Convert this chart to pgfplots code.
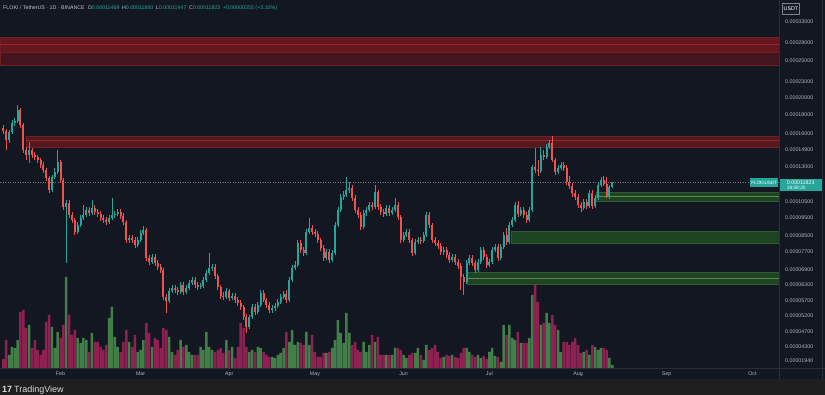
\documentclass[border=0pt]{standalone}
\usepackage{fontspec}
\setmainfont{Liberation Sans}
\usepackage{pgfplots}
\usepackage{pgfplotstable}
\pgfplotsset{compat=1.18}

\definecolor{bgc}{RGB}{19,23,34}
\definecolor{upc}{RGB}{38,166,154}
\definecolor{dnc}{RGB}{239,83,80}
\definecolor{volup}{RGB}{66,126,72}
\definecolor{voldn}{RGB}{142,32,82}
\definecolor{txt}{RGB}{178,181,190}
\definecolor{gridc}{RGB}{42,46,57}
\definecolor{rz1}{RGB}{100,24,30}
\definecolor{rz2}{RGB}{68,21,30}
\definecolor{rzl}{RGB}{150,38,42}
\definecolor{rzb}{RGB}{110,32,38}
\definecolor{gz}{RGB}{30,68,36}
\definecolor{gzl}{RGB}{90,140,80}
\definecolor{pline}{RGB}{120,123,134}
\definecolor{strip}{RGB}{30,30,30}

% daily candles: d = day of 2023 (Jan 1 = 0), o h l c prices in USDT, v = volume (relative)
\pgfplotstableread{
d o h l c v
13 0.00015358 0.00016336 0.00015077 0.00016135 13
14 0.00016135 0.00017375 0.00015937 0.00017056 21
15 0.00017056 0.00017591 0.00016744 0.00017268 20
16 0.00017268 0.00019061 0.00017056 0.00018481 28
20 0.00013999 0.00015170 0.00013325 0.00014438 43
28 0.00011279 0.00012374 0.00011141 0.00012222 41
29 0.00012222 0.00012920 0.00012072 0.00012605 20
30 0.00012605 0.00014438 0.00012450 0.00013408 36
33 0.00010155 0.00010604 0.00007187 0.00010409 91
37 0.00008703 0.00009257 0.00008597 0.00009087 30
38 0.00009087 0.00009666 0.00008976 0.00009488 25
39 0.00009488 0.00010282 0.00009372 0.00009666 30
40 0.00009666 0.00010155 0.00009547 0.00009969 28
42 0.00009786 0.00010604 0.00009666 0.00010093 35
48 0.00009257 0.00009666 0.00009143 0.00009488 50
49 0.00009488 0.00010736 0.00009372 0.00009666 61
50 0.00009666 0.00009907 0.00009488 0.00009726 31
51 0.00009726 0.00010031 0.00009606 0.00009846 21
55 0.00008284 0.00008544 0.00008132 0.00008386 26
58 0.00008032 0.00008438 0.00007933 0.00008284 16
59 0.00008284 0.00008811 0.00008182 0.00008650 18
60 0.00008650 0.00009031 0.00008544 0.00008811 28
63 0.00007231 0.00007598 0.00007143 0.00007458 21
69 0.00005684 0.00006159 0.00005614 0.00006046 31
70 0.00006046 0.00006275 0.00005972 0.00006159 16
73 0.00006009 0.00006392 0.00005935 0.00006275 28
75 0.00006009 0.00006275 0.00005935 0.00006159 23
76 0.00006159 0.00006471 0.00006083 0.00006353 16
77 0.00006353 0.00006592 0.00006275 0.00006471 13
80 0.00006197 0.00006353 0.00006121 0.00006236 21
81 0.00006236 0.00006592 0.00006159 0.00006471 18
82 0.00006471 0.00006883 0.00006392 0.00006757 36
83 0.00006757 0.00007645 0.00006674 0.00006969 21
84 0.00006969 0.00007143 0.00006841 0.00007012 18
89 0.00005826 0.00006159 0.00005754 0.00006046 28
91 0.00005790 0.00005972 0.00005719 0.00005862 21
97 0.00004841 0.00005214 0.00004781 0.00005149 16
98 0.00005149 0.00005580 0.00005086 0.00005477 18
100 0.00005311 0.00005649 0.00005246 0.00005546 21
101 0.00005546 0.00006083 0.00005477 0.00005972 20
105 0.00005377 0.00005546 0.00005278 0.00005443 11
106 0.00005443 0.00005614 0.00005344 0.00005511 10
107 0.00005511 0.00005754 0.00005443 0.00005649 13
108 0.00005649 0.00005935 0.00005580 0.00005826 15
109 0.00005826 0.00006046 0.00005754 0.00005935 20
111 0.00005719 0.00006592 0.00005649 0.00006471 26
112 0.00006471 0.00007099 0.00006392 0.00006969 38
113 0.00006969 0.00007276 0.00006883 0.00007099 23
114 0.00007099 0.00008284 0.00007012 0.00008132 26
117 0.00007645 0.00008866 0.00007551 0.00008703 36
118 0.00008703 0.00009488 0.00008597 0.00008921 23
124 0.00007412 0.00007836 0.00007321 0.00007692 15
126 0.00007321 0.00007788 0.00007231 0.00007645 20
127 0.00007645 0.00009257 0.00007551 0.00009087 28
128 0.00009087 0.00010155 0.00008976 0.00009969 48
129 0.00009969 0.00011004 0.00009846 0.00010802 35
130 0.00010802 0.00011210 0.00010604 0.00010936 25
131 0.00010936 0.00012222 0.00010802 0.00011279 55
132 0.00011279 0.00011851 0.00011072 0.00011419 35
137 0.00008976 0.00009969 0.00008866 0.00009786 26
138 0.00009786 0.00010155 0.00009606 0.00009969 16
139 0.00009969 0.00010474 0.00009846 0.00010282 23
141 0.00010155 0.00011633 0.00010031 0.00011141 26
145 0.00009726 0.00010282 0.00009606 0.00010093 13
147 0.00009786 0.00010155 0.00009666 0.00009969 13
148 0.00009969 0.00010736 0.00009846 0.00010282 20
151 0.00008284 0.00008703 0.00008182 0.00008544 13
152 0.00008544 0.00008866 0.00008438 0.00008703 10
155 0.00007645 0.00008335 0.00007551 0.00008182 15
156 0.00008182 0.00008438 0.00008082 0.00008284 20
158 0.00008233 0.00008703 0.00008132 0.00008544 8
159 0.00008544 0.00009846 0.00008438 0.00009666 23
165 0.00007692 0.00007933 0.00007551 0.00007788 11
168 0.00007321 0.00007598 0.00007231 0.00007458 13
173 0.00006392 0.00007321 0.00006314 0.00007187 20
174 0.00007187 0.00007551 0.00007099 0.00007412 16
177 0.00006883 0.00007366 0.00006799 0.00007231 13
178 0.00007231 0.00007933 0.00007143 0.00007788 10
181 0.00007099 0.00007366 0.00007012 0.00007231 16
182 0.00007231 0.00007933 0.00007143 0.00007788 20
183 0.00007788 0.00008082 0.00007692 0.00007933 12
185 0.00007412 0.00008082 0.00007321 0.00007933 6
186 0.00007933 0.00008703 0.00007836 0.00008544 43
188 0.00008182 0.00009257 0.00008082 0.00009087 43
189 0.00009087 0.00009547 0.00008976 0.00009372 30
190 0.00009372 0.00010474 0.00009257 0.00010282 28
192 0.00009726 0.00010155 0.00009606 0.00009969 25
195 0.00009372 0.00010155 0.00009257 0.00009969 30
196 0.00009969 0.00013162 0.00009846 0.00013000 73
199 0.00012683 0.00014708 0.00012527 0.00013999 43
201 0.00013828 0.00014984 0.00013658 0.00014708 55
202 0.00014708 0.00015358 0.00014528 0.00015077 45
205 0.00012605 0.00013162 0.00012450 0.00012920 38
206 0.00012920 0.00013408 0.00012761 0.00013162 16
214 0.00010093 0.00010670 0.00009969 0.00010474 16
216 0.00010218 0.00011279 0.00010093 0.00011072 13
218 0.00010218 0.00010936 0.00010093 0.00010736 21
219 0.00010736 0.00011851 0.00010604 0.00011633 18
220 0.00011633 0.00012222 0.00011490 0.00011998 20
223 0.00010869 0.00011633 0.00010670 0.00011469 10
224 0.00011469 0.00011850 0.00011447 0.00011823 3
}\uptab

\pgfplotstableread{
d o h l c v
11 0.00016539 0.00016847 0.00015937 0.00016235 9
12 0.00016235 0.00016437 0.00014438 0.00015358 28
17 0.00018481 0.00018711 0.00016539 0.00016847 56
18 0.00016847 0.00017056 0.00014173 0.00014438 58
19 0.00014438 0.00014708 0.00013574 0.00013999 40
21 0.00014438 0.00014618 0.00013743 0.00013999 20
22 0.00013999 0.00014261 0.00013574 0.00013828 28
23 0.00013828 0.00013999 0.00013325 0.00013574 18
24 0.00013574 0.00013743 0.00012920 0.00013162 13
25 0.00013162 0.00013408 0.00012527 0.00012761 18
26 0.00012761 0.00012920 0.00011924 0.00012147 46
27 0.00012147 0.00012297 0.00011072 0.00011279 53
31 0.00013408 0.00013574 0.00011778 0.00011998 30
32 0.00011998 0.00012147 0.00009969 0.00010155 43
34 0.00010409 0.00010604 0.00009488 0.00009666 53
35 0.00009666 0.00009846 0.00009200 0.00009372 33
36 0.00009372 0.00009488 0.00008544 0.00008703 38
41 0.00009969 0.00010155 0.00009606 0.00009786 16
43 0.00010093 0.00010282 0.00009666 0.00009846 26
44 0.00009846 0.00010031 0.00009547 0.00009726 26
45 0.00009726 0.00009907 0.00009314 0.00009488 21
46 0.00009488 0.00009666 0.00009200 0.00009372 18
47 0.00009372 0.00009547 0.00009087 0.00009257 23
52 0.00009846 0.00010031 0.00009430 0.00009606 16
53 0.00009606 0.00009786 0.00009087 0.00009257 26
54 0.00009257 0.00009372 0.00008132 0.00008284 38
56 0.00008386 0.00008544 0.00008132 0.00008284 21
57 0.00008284 0.00008438 0.00007884 0.00008032 33
61 0.00008811 0.00008921 0.00007276 0.00007412 45
62 0.00007412 0.00007551 0.00007099 0.00007231 35
64 0.00007458 0.00007598 0.00007055 0.00007187 30
65 0.00007187 0.00007321 0.00006883 0.00007012 28
66 0.00007012 0.00007143 0.00006757 0.00006883 20
67 0.00006883 0.00006969 0.00005719 0.00005826 40
68 0.00005826 0.00005935 0.00005278 0.00005684 38
71 0.00006159 0.00006275 0.00005972 0.00006083 13
72 0.00006083 0.00006197 0.00005898 0.00006009 18
74 0.00006275 0.00006392 0.00005898 0.00006009 21
78 0.00006471 0.00006592 0.00006159 0.00006275 13
79 0.00006275 0.00006392 0.00006083 0.00006197 13
85 0.00007012 0.00007143 0.00006511 0.00006633 16
86 0.00006633 0.00006716 0.00006083 0.00006197 18
87 0.00006197 0.00006275 0.00005754 0.00005862 20
88 0.00005862 0.00006009 0.00005719 0.00005826 15
90 0.00006046 0.00006121 0.00005684 0.00005790 18
92 0.00005862 0.00005972 0.00005614 0.00005719 10
93 0.00005719 0.00005826 0.00005511 0.00005614 21
94 0.00005614 0.00005719 0.00005377 0.00005477 45
95 0.00005477 0.00005546 0.00005055 0.00005149 40
96 0.00005149 0.00005246 0.00004665 0.00004841 21
99 0.00005477 0.00005580 0.00005214 0.00005311 16
102 0.00005972 0.00006083 0.00005649 0.00005719 16
103 0.00005719 0.00005790 0.00005443 0.00005546 13
104 0.00005546 0.00005649 0.00005278 0.00005377 11
110 0.00005935 0.00006083 0.00005614 0.00005719 36
115 0.00008132 0.00008284 0.00007645 0.00007788 25
116 0.00007788 0.00007933 0.00007504 0.00007645 23
119 0.00008921 0.00009087 0.00008544 0.00008703 33
120 0.00008703 0.00008866 0.00008438 0.00008597 16
121 0.00008597 0.00008757 0.00008132 0.00008284 11
122 0.00008284 0.00008386 0.00007740 0.00007884 11
123 0.00007884 0.00008032 0.00007276 0.00007412 15
125 0.00007692 0.00007836 0.00007187 0.00007321 16
133 0.00011419 0.00011633 0.00010539 0.00010736 23
134 0.00010736 0.00010936 0.00009786 0.00009969 26
135 0.00009969 0.00010155 0.00009488 0.00009666 18
136 0.00009666 0.00009846 0.00008811 0.00008976 16
140 0.00010282 0.00010474 0.00009969 0.00010155 33
142 0.00011141 0.00011279 0.00009969 0.00010155 31
143 0.00010155 0.00010345 0.00009666 0.00009846 13
144 0.00009846 0.00010031 0.00009547 0.00009726 13
146 0.00010093 0.00010282 0.00009606 0.00009786 13
149 0.00010282 0.00010474 0.00009372 0.00009547 20
150 0.00009547 0.00009666 0.00008132 0.00008284 18
153 0.00008703 0.00008866 0.00008132 0.00008284 13
154 0.00008284 0.00008386 0.00007504 0.00007645 15
157 0.00008284 0.00008438 0.00008082 0.00008233 13
160 0.00009666 0.00009846 0.00008921 0.00009087 18
161 0.00009087 0.00009200 0.00008132 0.00008284 20
162 0.00008284 0.00008438 0.00007983 0.00008132 23
163 0.00008132 0.00008284 0.00007836 0.00007983 16
164 0.00007983 0.00008132 0.00007551 0.00007692 10
166 0.00007788 0.00007933 0.00007412 0.00007551 13
167 0.00007551 0.00007692 0.00007187 0.00007321 12
169 0.00007458 0.00007598 0.00007099 0.00007231 11
170 0.00007231 0.00007366 0.00006926 0.00007055 10
171 0.00007055 0.00007187 0.00006083 0.00006592 15
172 0.00006592 0.00006716 0.00005898 0.00006392 20
175 0.00007412 0.00007551 0.00007055 0.00007187 13
176 0.00007187 0.00007321 0.00006757 0.00006883 11
179 0.00007788 0.00007933 0.00007321 0.00007458 12
180 0.00007458 0.00007598 0.00006969 0.00007099 9
184 0.00007933 0.00008082 0.00007276 0.00007412 11
187 0.00008544 0.00008921 0.00008032 0.00008182 33
191 0.00010282 0.00010539 0.00009547 0.00009726 36
193 0.00009969 0.00010155 0.00009488 0.00009666 25
194 0.00009666 0.00009846 0.00009200 0.00009372 25
197 0.00013000 0.00014618 0.00012527 0.00012761 91
198 0.00012761 0.00013574 0.00012297 0.00012683 66
200 0.00013999 0.00014438 0.00013574 0.00013828 45
203 0.00015077 0.00015742 0.00013408 0.00013574 53
204 0.00013574 0.00013743 0.00012374 0.00012605 43
207 0.00013162 0.00013408 0.00012683 0.00012920 26
208 0.00012920 0.00013162 0.00011633 0.00011851 26
209 0.00011851 0.00012297 0.00011349 0.00011562 23
210 0.00011562 0.00011778 0.00010802 0.00011072 26
211 0.00011072 0.00011279 0.00010604 0.00010802 30
212 0.00010802 0.00011004 0.00010093 0.00010282 23
213 0.00010282 0.00010474 0.00009846 0.00010093 15
215 0.00010474 0.00010670 0.00010031 0.00010218 18
217 0.00011072 0.00011279 0.00010031 0.00010218 23
221 0.00011998 0.00012297 0.00011562 0.00011705 20
222 0.00011705 0.00012222 0.00010736 0.00010869 18
}\dntab

\newcommand\drawcandles[2]{%
  \pgfplotstablegetrowsof{#1}%
  \pgfmathtruncatemacro\candleN{\pgfplotsretval-1}%
  \pgfplotsforeachungrouped \candlei in {0,...,\candleN}{%
    \pgfplotstablegetelem{\candlei}{d}\of#1\let\cd\pgfplotsretval
    \pgfplotstablegetelem{\candlei}{o}\of#1\let\co\pgfplotsretval
    \pgfplotstablegetelem{\candlei}{h}\of#1\let\ch\pgfplotsretval
    \pgfplotstablegetelem{\candlei}{l}\of#1\let\cl\pgfplotsretval
    \pgfplotstablegetelem{\candlei}{c}\of#1\let\cc\pgfplotsretval
    \edef\candletmp{%
      \noexpand\addplot[draw=#2, line width=0.7bp, forget plot] coordinates {(\cd,\cl) (\cd,\ch)};%
      \noexpand\addplot[draw=#2, line width=2.0bp, forget plot] coordinates {(\cd,\co) (\cd,\cc)};%
    }%
    \candletmp
  }%
}

\newcommand\lab{\fontsize{5.3bp}{6bp}\selectfont}

\begin{document}
\begin{tikzpicture}
\fill[bgc] (0,0) rectangle (825bp,395bp);
\fill[strip] (0,0) rectangle (825bp,16bp);

% volume pane
\begin{axis}[at={(0bp,27bp)}, anchor=south west, scale only axis,
  width=779bp, height=368bp, xmin=9.83, xmax=282.3, ymin=0, ymax=368,
  hide axis, clip=true]
\addplot[ybar, bar width=2.5bp, bar shift=0pt, fill=volup, draw=none] table[x=d, y=v] {\uptab};
\addplot[ybar, bar width=2.5bp, bar shift=0pt, fill=voldn, draw=none] table[x=d, y=v] {\dntab};
\end{axis}

% price pane
\begin{axis}[at={(0bp,27bp)}, anchor=south west, scale only axis,
  width=779bp, height=368bp, xmin=9.83, xmax=282.3,
  ymode=log, ymin=0.00003759, ymax=0.00036445,
  axis line style={draw=none}, tick style={draw=none},
  major tick length=0pt, minor tick length=0pt,
  xtick={31,59,90,120,151,181,212,243,273},
  xticklabels={Feb,Mar,Apr,May,Jun,Jul,Aug,Sep,Oct},
  xticklabel style={font=\lab, text=txt, anchor=center, yshift=-6bp, inner sep=0pt},
  ytick={0.000043,0.000047,0.000052,0.000057,0.000063,0.000069,0.000077,0.000085,0.000095,0.000105,0.00013,0.00014438,0.00016,0.00018,0.0002,0.00021969,0.00025,0.00028,0.00031816},
  yticklabels={0.00004300,0.00004700,0.00005200,0.00005700,0.00006300,0.00006900,0.00007700,0.00008500,0.00009500,0.00010500,0.00013000,0.00014900,0.00016000,0.00018000,0.00020000,0.00023000,0.00025000,0.00028000,0.00033000},
  yticklabel pos=right,
  yticklabel style={font=\lab, text=txt, anchor=west, inner sep=0pt, xshift=6bp},
  clip=true]
% resistance zones
\addplot[fill=rz1, draw=rzb, line width=0.4bp, forget plot] coordinates {(9.83,0.00029000) (283,0.00029000) (283,0.00026440) (9.83,0.00026440) (9.83,0.00029000)};
\addplot[fill=rz2, draw=rzb, line width=0.4bp, forget plot] coordinates {(9.83,0.00026440) (283,0.00026440) (283,0.00024400) (9.83,0.00024400) (9.83,0.00026440)};
\addplot[draw=rzl, line width=0.6bp, forget plot] coordinates {(9.83,0.00027780) (283,0.00027780)};
\addplot[fill=rz1!80!bgc, draw=rzb, line width=0.4bp, forget plot] coordinates {(18.9,0.00015742) (283,0.00015742) (283,0.00014708) (18.9,0.00014708) (18.9,0.00015742)};
\addplot[draw=rzl, line width=0.5bp, forget plot] coordinates {(18.9,0.00015358) (283,0.00015358)};
% support zones
\addplot[fill=gz, draw=gz!70!gzl, line width=0.4bp, forget plot] coordinates {(218.5,0.00011141) (283,0.00011141) (283,0.00010539) (218.5,0.00010539) (218.5,0.00011141)};
\addplot[draw=gzl, line width=0.5bp, forget plot] coordinates {(218.5,0.00010869) (283,0.00010869)};
\addplot[fill=gz, draw=gz!70!gzl, line width=0.4bp, forget plot] coordinates {(188.8,0.00008757) (283,0.00008757) (283,0.00008132) (188.8,0.00008132) (188.8,0.00008757)};
\addplot[fill=gz, draw=gz!70!gzl, line width=0.4bp, forget plot] coordinates {(173.1,0.00006799) (283,0.00006799) (283,0.00006314) (173.1,0.00006314) (173.1,0.00006799)};
\addplot[draw=gzl, line width=0.5bp, forget plot] coordinates {(173.1,0.00006551) (283,0.00006551)};
% current price line
\addplot[draw=pline, line width=0.5bp, dash pattern=on 1bp off 1.5bp, forget plot] coordinates {(9.83,0.00011823) (283,0.00011823)};
% candles
\drawcandles{\uptab}{upc}
\drawcandles{\dntab}{dnc}
\end{axis}

% frame lines
\draw[gridc, line width=0.6bp] (0,27bp) -- (825bp,27bp);
\draw[gridc, line width=0.6bp] (779bp,16bp) -- (779bp,395bp);
\draw[gridc, line width=0.6bp] (822bp,16bp) -- (822bp,395bp);

% header
\node[anchor=west, inner sep=0pt, text=txt!80!white, font=\lab] at (3bp,387bp)
  {FLOKI / TetherUS · 1D · BINANCE\hspace{3bp}O\textcolor{upc}{0.00011469}\hspace{2.5bp}H\textcolor{upc}{0.00011850}\hspace{2.5bp}L\textcolor{upc}{0.00011447}\hspace{2.5bp}C\textcolor{upc}{0.00011823}\hspace{2.5bp}\textcolor{upc}{+0.00000355 (+3.10\%)}};

% USDT box
\node[draw=gridc!60!white, fill=bgc!80!gridc, text=white, font=\lab, inner sep=1.5bp, anchor=west, minimum height=11bp] at (782bp,386bp) {USDT};

% last price labels
\node[fill=upc, text=white, font=\fontsize{4.6bp}{5bp}\selectfont, inner sep=1.2bp, anchor=east, minimum height=9bp] at (778.5bp,212bp) {FLOKIUSDT};
\node[fill=upc, text=white, font=\lab, inner sep=1.5bp, anchor=west, align=left, minimum width=42bp] at (779.5bp,210bp) {0.00011823\\[-1.5bp]{\fontsize{4.8bp}{5bp}\selectfont 19:59:20}};

% volume scale label
\node[anchor=west, inner sep=0pt, text=txt, font=\lab] at (785bp,34bp) {0.00001940};

% watermark
\node[anchor=west, inner sep=0pt, text=white!85!black, font=\fontsize{9bp}{10bp}\selectfont] at (2bp,4.5bp) {\textbf{17}\hspace{2bp}TradingView};

\pgfresetboundingbox
\useasboundingbox (0,0) rectangle (825bp,395bp);
\end{tikzpicture}
\end{document}
